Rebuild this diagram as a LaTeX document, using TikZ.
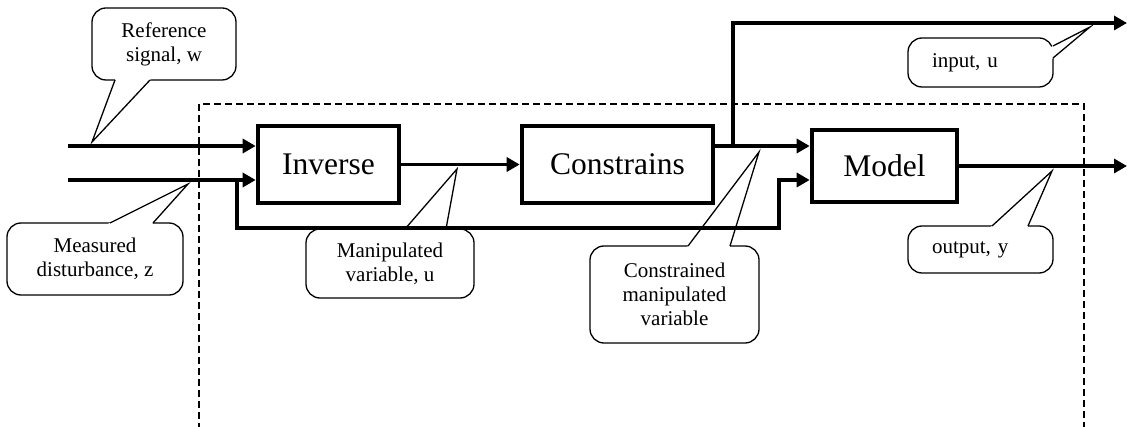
\documentclass[tikz,border=0pt]{standalone}
\usepackage{fontspec}
\setmainfont{Liberation Serif}
\usetikzlibrary{arrows.meta,calc}

% tail of a speech bubble: base point 1, base point 2, tip
\newcommand\bubbletail[3]{%
  \fill[white] ($(#1)!-2.5pt!(#3)$) -- (#3) -- ($(#2)!-2.5pt!(#3)$) -- cycle;
  \draw[tailline] (#1) -- (#3) -- (#2);
}

\begin{document}
\begin{tikzpicture}[x=1pt,y=-1pt,
  blockbox/.style={draw, line width=4.6pt, inner sep=0pt,
    font=\fontsize{31.5}{36}\selectfont},
  sig/.style={line width=3.8pt, -{Triangle[length=13pt,width=14pt]}},
  bubble/.style={draw, line width=1.3pt, rounded corners=14pt, fill=white,
    align=center, inner sep=0pt, font=\fontsize{21}{24}\selectfont},
  tailline/.style={line width=1.3pt, line join=miter},
  frame/.style={line width=1.3pt, dash pattern=on 7pt off 4pt}]

\useasboundingbox (0,0) rectangle (1127,427);

% dashed system boundary, open at the bottom
\draw[frame] (199,430) -- (199,104) -- (1084,104) -- (1084,430);

% speech bubbles
\node[bubble, minimum width=144pt, minimum height=72pt] (cw) at (164,44)
  {Reference\\signal, w};
\bubbletail{115,80}{150,80}{92,142}

\node[bubble, minimum width=176pt, minimum height=72pt] (cz) at (95,259)
  {Measured\\disturbance, z};
\bubbletail{110,223}{153,223}{188,184}

\node[bubble, minimum width=168pt, minimum height=69pt] (cu) at (390,263.5)
  {Manipulated\\variable, u};
\bubbletail{405,229}{446,229}{457,169}

\node[bubble, minimum width=169pt, minimum height=97pt] (cc) at (674.5,294.5)
  {Constrained\\manipulated\\variable};
\bubbletail{688,246}{730,246}{759,152}

\node[bubble, align=left, text width=97pt, inner xsep=24pt,
  minimum height=49pt] (ci) at (980.5,62.5) {input, u};
\bubbletail{1053,46}{1053,58}{1090,27}

\node[bubble, align=left, text width=97pt, inner xsep=24pt,
  minimum height=47pt] (cy) at (980.5,249.5) {output, y};
\bubbletail{992,226}{1028,226}{1052,171}

% blocks
\node[blockbox, minimum width=141pt, minimum height=77pt] (inv) at (328.5,164.5) {Inverse};
\node[blockbox, minimum width=191pt, minimum height=77pt] (con) at (617.5,164.5) {Constrains};
\node[blockbox, minimum width=145pt, minimum height=72pt] (mod) at (884.5,166) {Model};

% signal coordinates
\coordinate (win) at (68,146);
\coordinate (zin) at (68,180);
\coordinate (fb)  at (237,180);
\coordinate (fb1) at (237,228);
\coordinate (fb2) at (779,228);
\coordinate (fb3) at (779,180);
\coordinate (br)  at (733,146);
\coordinate (br1) at (733,23);
\coordinate (uout) at (1127,23);
\coordinate (yout) at (1127,166);

% connectors
\draw[sig] (win) -- (win -| inv.west);
\draw[sig] (zin) -- (zin -| inv.west);
\draw[sig] (inv.east) -- (inv.east -| con.west);
\draw[sig] (con.east |- br) -- (br -| mod.west);
\draw[sig] (br) -- (br1) -- (uout);
\draw[sig] (fb) -- (fb1) -- (fb2) -- (fb3) -- (fb3 -| mod.west);
\draw[sig] (mod.east) -- (yout);

\end{tikzpicture}
\end{document}
